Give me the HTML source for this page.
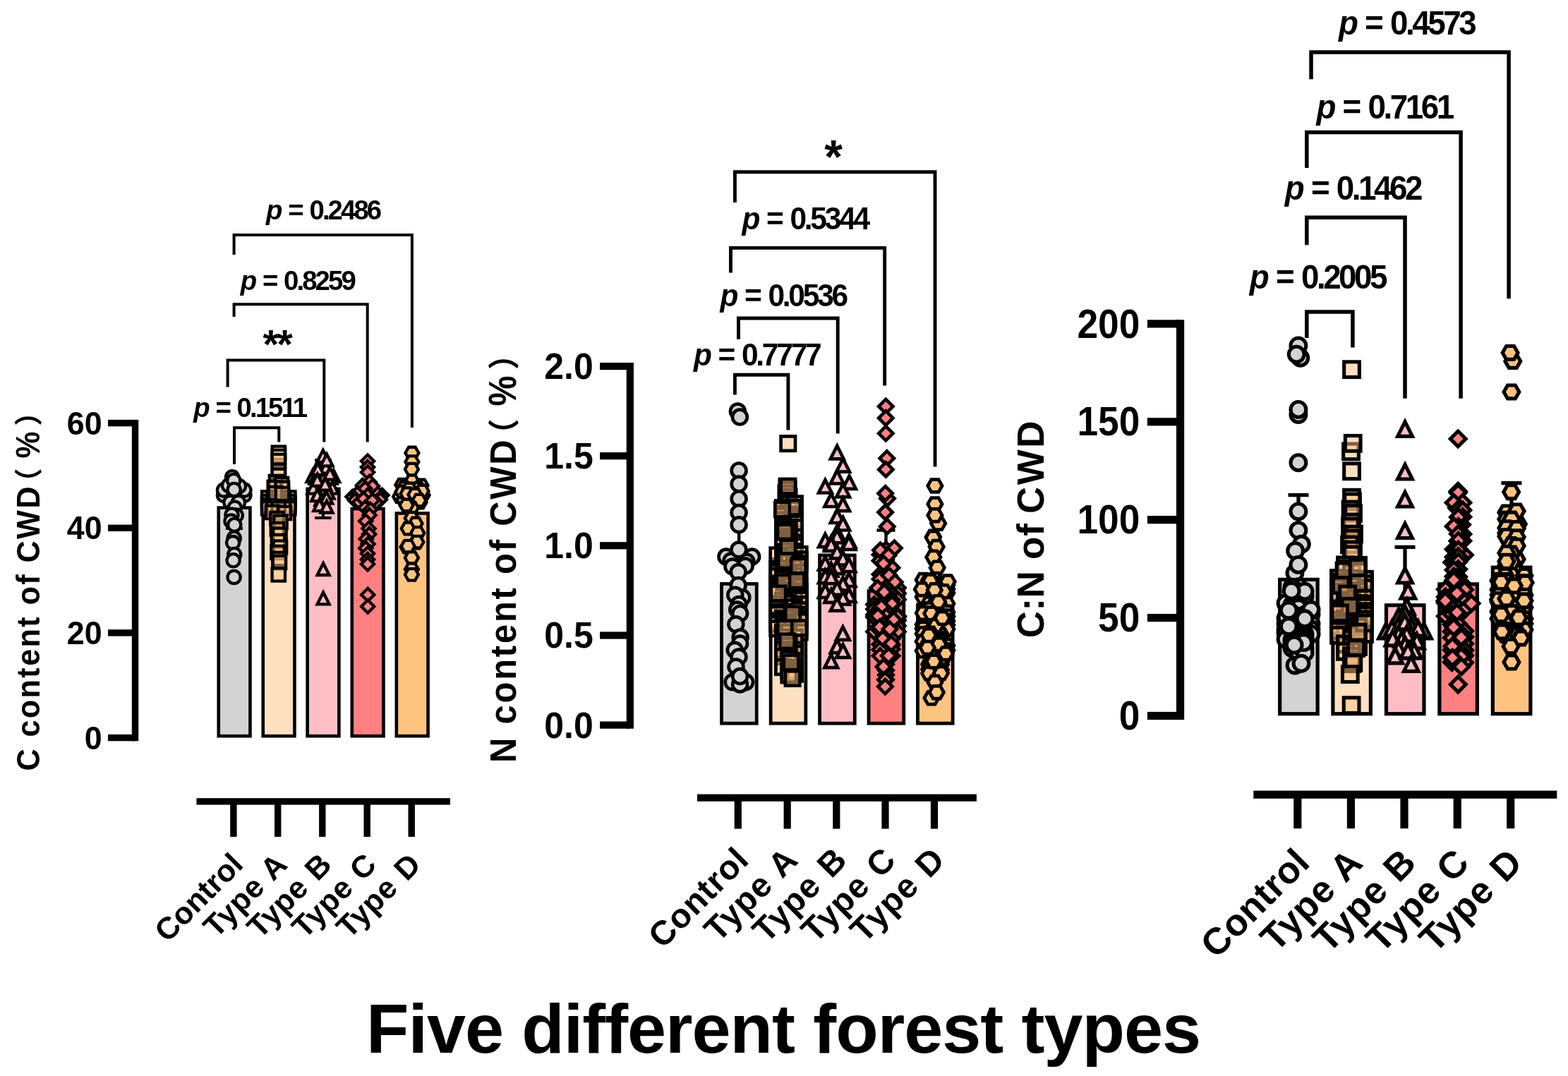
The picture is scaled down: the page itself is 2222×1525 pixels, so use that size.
<!DOCTYPE html>
<html lang="en"><head><meta charset="utf-8"><title>Five different forest types</title>
<style>html,body{margin:0;padding:0;background:#fff;overflow:hidden}svg{display:block}text{font-family:'Liberation Sans','Noto Sans CJK SC',sans-serif;font-weight:bold;fill:#000}</style>
</head><body>
<svg width="2222" height="1525" viewBox="0 0 2222 1525" role="img" aria-label="Bar and scatter charts of C content, N content and C:N of CWD for five forest types">
<rect width="2222" height="1525" fill="#fff"/>
<g>
<g fill="#000">
<rect x="186.85" y="594.9" width="9.4" height="455.4" fill="#000"/>
<rect x="153" y="594.9" width="38.55" height="9.4" fill="#000"/>
<rect x="153" y="743.6" width="38.55" height="9.4" fill="#000"/>
<rect x="153" y="892.2" width="38.55" height="9.4" fill="#000"/>
<rect x="153" y="1040.9" width="38.55" height="9.4" fill="#000"/>
<rect x="278.5" y="1131.2" width="359.4" height="9.4" fill="#000"/>
<rect x="326.2" y="1135.9" width="9.4" height="50.1" fill="#000"/>
<rect x="389" y="1135.9" width="9.4" height="50.1" fill="#000"/>
<rect x="452.1" y="1135.9" width="9.4" height="50.1" fill="#000"/>
<rect x="515.5" y="1135.9" width="9.4" height="50.1" fill="#000"/>
<rect x="578.5" y="1135.9" width="9.4" height="50.1" fill="#000"/>
</g>
<text transform="translate(144.6 615.5) scale(1 1.048)" font-size="44.8" text-anchor="end">60</text>
<text transform="translate(144.6 764.2) scale(1 1.048)" font-size="44.8" text-anchor="end">40</text>
<text transform="translate(144.6 912.8) scale(1 1.048)" font-size="44.8" text-anchor="end">20</text>
<text transform="translate(144.6 1061.5) scale(1 1.048)" font-size="44.8" text-anchor="end">0</text>
<text transform="translate(346.8 1227.6) rotate(-45)" font-size="43.6" text-anchor="end" style="word-spacing:2px;">Control</text>
<text transform="translate(409.6 1227.6) rotate(-45)" font-size="43.6" text-anchor="end" style="letter-spacing:0.6px;word-spacing:2px;">Type A</text>
<text transform="translate(472.7 1227.6) rotate(-45)" font-size="43.6" text-anchor="end" style="letter-spacing:0.6px;word-spacing:2px;">Type B</text>
<text transform="translate(536.1 1227.6) rotate(-45)" font-size="43.6" text-anchor="end" style="letter-spacing:0.6px;word-spacing:2px;">Type C</text>
<text transform="translate(599.1 1227.6) rotate(-45)" font-size="43.6" text-anchor="end" style="letter-spacing:0.6px;word-spacing:2px;">Type D</text>
<g stroke="#000" stroke-width="4.6">
<rect x="309.75" y="719.6" width="44.7" height="323.6" fill="#D3D3D3"/>
<rect x="372.75" y="724.3" width="44.7" height="318.9" fill="#FFE0C0"/>
<rect x="435.65" y="692.9" width="44.7" height="350.3" fill="#FFBEC6"/>
<rect x="498.75" y="721.1" width="44.7" height="322.1" fill="#FF8080"/>
<rect x="561.85" y="727.5" width="44.7" height="315.7" fill="#FFC380"/>
</g>
<path d="M332 690V749M320 690H344M320 749H344M457.9 652V734.1M446.1 652H469.7M446.1 734.1H469.7" fill="none" stroke="#000" stroke-width="4"/>
<g fill="#D3D3D3" stroke="#000" stroke-width="4.3">
<circle cx="329.1" cy="676.2" r="9.1"/><circle cx="317" cy="701.9" r="9.1"/><circle cx="346.4" cy="701.9" r="9.1"/><circle cx="317" cy="694.6" r="9.1"/><circle cx="346.4" cy="694.6" r="9.1"/><circle cx="331.7" cy="700" r="9.1"/><circle cx="324" cy="688" r="9.1"/><circle cx="339" cy="689" r="9.1"/><circle cx="331.2" cy="680.9" r="9.1"/><circle cx="331.7" cy="694" r="9.1"/><circle cx="326.4" cy="711.9" r="9.1"/><circle cx="338" cy="711.9" r="9.1"/><circle cx="332.7" cy="719.7" r="9.1"/><circle cx="334.8" cy="730.5" r="9.1"/><circle cx="328.5" cy="729.7" r="9.1"/><circle cx="327.5" cy="738.6" r="9.1"/><circle cx="332.2" cy="743.9" r="9.1"/><circle cx="331.7" cy="762.8" r="9.1"/><circle cx="330.1" cy="769.1" r="9.1"/><circle cx="332.2" cy="785.9" r="9.1"/><circle cx="330.6" cy="794.3" r="9.1"/><circle cx="331.6" cy="818" r="9.1"/>
</g>
<g fill="#FFC080" fill-opacity=".5" stroke="#000" stroke-width="4.3">
<rect x="385.7" y="632.6" width="18.4" height="18.4"/><rect x="385.7" y="637.8" width="18.4" height="18.4"/><rect x="385.7" y="643.8" width="18.4" height="18.4"/><rect x="385.7" y="657.8" width="18.4" height="18.4"/><rect x="385.7" y="664.8" width="18.4" height="18.4"/><rect x="381.8" y="673.8" width="18.4" height="18.4"/><rect x="389.8" y="676.8" width="18.4" height="18.4"/><rect x="379.6" y="681.8" width="18.4" height="18.4"/><rect x="390.8" y="682.8" width="18.4" height="18.4"/><rect x="371" y="696.3" width="18.4" height="18.4"/><rect x="400.1" y="696.3" width="18.4" height="18.4"/><rect x="378.2" y="696.3" width="18.4" height="18.4"/><rect x="392.8" y="696.3" width="18.4" height="18.4"/><rect x="385.5" y="696.3" width="18.4" height="18.4"/><rect x="371" y="701.8" width="18.4" height="18.4"/><rect x="400.1" y="701.8" width="18.4" height="18.4"/><rect x="378.2" y="701.8" width="18.4" height="18.4"/><rect x="392.8" y="701.8" width="18.4" height="18.4"/><rect x="385.5" y="701.8" width="18.4" height="18.4"/><rect x="371" y="706.8" width="18.4" height="18.4"/><rect x="400.1" y="706.8" width="18.4" height="18.4"/><rect x="378.2" y="706.8" width="18.4" height="18.4"/><rect x="392.8" y="706.8" width="18.4" height="18.4"/><rect x="385.5" y="706.8" width="18.4" height="18.4"/><rect x="371" y="711.3" width="18.4" height="18.4"/><rect x="400.1" y="711.3" width="18.4" height="18.4"/><rect x="378.2" y="711.3" width="18.4" height="18.4"/><rect x="392.8" y="711.3" width="18.4" height="18.4"/><rect x="385.5" y="711.3" width="18.4" height="18.4"/><rect x="380.8" y="689.8" width="18.4" height="18.4"/><rect x="390.8" y="690.8" width="18.4" height="18.4"/><rect x="376.8" y="716.8" width="18.4" height="18.4"/><rect x="393.8" y="717.8" width="18.4" height="18.4"/><rect x="383.3" y="725.8" width="18.4" height="18.4"/><rect x="388.3" y="730.8" width="18.4" height="18.4"/><rect x="383.8" y="740.8" width="18.4" height="18.4"/><rect x="387.3" y="748.6" width="18.4" height="18.4"/><rect x="384.8" y="757.8" width="18.4" height="18.4"/><rect x="387.8" y="766.4" width="18.4" height="18.4"/><rect x="384.3" y="773.8" width="18.4" height="18.4"/><rect x="386.3" y="782.8" width="18.4" height="18.4"/><rect x="386.8" y="787.8" width="18.4" height="18.4"/><rect x="385.6" y="805.2" width="18.4" height="18.4"/>
</g>
<g fill="#FFBEC6" stroke="#000" stroke-width="4.3">
<path d="M443 666.16L451.5 682.99H434.5Z"/><path d="M472.7 666.16L481.2 682.99H464.2Z"/><path d="M447 668.86L455.5 685.69H438.5Z"/><path d="M469 668.86L477.5 685.69H460.5Z"/><path d="M456 660.86L464.5 677.69H447.5Z"/><path d="M444 682.86L452.5 699.69H435.5Z"/><path d="M471 682.86L479.5 699.69H462.5Z"/><path d="M455 686.86L463.5 703.69H446.5Z"/><path d="M465 689.86L473.5 706.69H456.5Z"/><path d="M458 669.86L466.5 686.69H449.5Z"/><path d="M452 649.86L460.5 666.69H443.5Z"/><path d="M462 653.86L470.5 670.69H453.5Z"/><path d="M457.8 638.06L466.3 654.89H449.3Z"/><path d="M463 643.56L471.5 660.39H454.5Z"/><path d="M450.4 656.16L458.9 672.99H441.9Z"/><path d="M467.5 662.86L476 679.69H459Z"/><path d="M449.7 671.86L458.2 688.69H441.2Z"/><path d="M460.8 677.76L469.3 694.59H452.3Z"/><path d="M455 698.86L463.5 715.69H446.5Z"/><path d="M449.7 693.36L458.2 710.19H441.2Z"/><path d="M462.7 696.86L471.2 713.69H454.2Z"/><path d="M452.8 707.26L461.3 724.09H444.3Z"/><path d="M463 709.66L471.5 726.49H454.5Z"/><path d="M458.1 798.16L466.6 814.99H449.6Z"/><path d="M458.1 839.56L466.6 856.39H449.6Z"/>
</g>
<g fill="#FF8080" stroke="#000" stroke-width="4.3">
<path d="M521 644.5L530.1 653.6L521 662.7L511.9 653.6Z"/><path d="M521 652.9L530.1 662L521 671.1L511.9 662Z"/><path d="M521 660.2L530.1 669.3L521 678.4L511.9 669.3Z"/><path d="M523.6 673.9L532.7 683L523.6 692.1L514.5 683Z"/><path d="M499.5 694.9L508.6 704L499.5 713.1L490.4 704Z"/><path d="M541.4 692.7L550.5 701.8L541.4 710.9L532.3 701.8Z"/><path d="M505.7 692.7L514.8 701.8L505.7 710.9L496.6 701.8Z"/><path d="M536.2 691.7L545.3 700.8L536.2 709.9L527.1 700.8Z"/><path d="M510 686.4L519.1 695.5L510 704.6L500.9 695.5Z"/><path d="M530.9 686.4L540 695.5L530.9 704.6L521.8 695.5Z"/><path d="M503 699.9L512.1 709L503 718.1L493.9 709Z"/><path d="M539 698.9L548.1 708L539 717.1L529.9 708Z"/><path d="M509 702.9L518.1 712L509 721.1L499.9 712Z"/><path d="M533 702.9L542.1 712L533 721.1L523.9 712Z"/><path d="M514 678.9L523.1 688L514 697.1L504.9 688Z"/><path d="M528 679.9L537.1 689L528 698.1L518.9 689Z"/><path d="M517.3 683.3L526.4 692.4L517.3 701.5L508.2 692.4Z"/><path d="M521 692.9L530.1 702L521 711.1L511.9 702Z"/><path d="M515 697.9L524.1 707L515 716.1L505.9 707Z"/><path d="M527.8 700.1L536.9 709.2L527.8 718.3L518.7 709.2Z"/><path d="M517.3 710.6L526.4 719.7L517.3 728.8L508.2 719.7Z"/><path d="M525 712.9L534.1 722L525 731.1L515.9 722Z"/><path d="M523.6 721.1L532.7 730.2L523.6 739.3L514.5 730.2Z"/><path d="M518.3 729.5L527.4 738.6L518.3 747.7L509.2 738.6Z"/><path d="M522.5 740L531.6 749.1L522.5 758.2L513.4 749.1Z"/><path d="M523.2 747.9L532.3 757L523.2 766.1L514.1 757Z"/><path d="M518.8 754.7L527.9 763.8L518.8 772.9L509.7 763.8Z"/><path d="M521.5 761.9L530.6 771L521.5 780.1L512.4 771Z"/><path d="M518.3 767.9L527.4 777L518.3 786.1L509.2 777Z"/><path d="M521 775.5L530.1 784.6L521 793.7L511.9 784.6Z"/><path d="M521 783.9L530.1 793L521 802.1L511.9 793Z"/><path d="M521 790.3L530.1 799.4L521 808.5L511.9 799.4Z"/><path d="M521.2 833.8L530.3 842.9L521.2 852L512.1 842.9Z"/><path d="M521.2 850.5L530.3 859.6L521.2 868.7L512.1 859.6Z"/>
</g>
<g fill="#FFC380" stroke="#000" stroke-width="4.3">
<path d="M574.4 642L579.15 633.77H588.65L593.4 642L588.65 650.23H579.15Z"/><path d="M574.4 654.6L579.15 646.37H588.65L593.4 654.6L588.65 662.83H579.15Z"/><path d="M573.9 665.1L578.65 656.87H588.15L592.9 665.1L588.15 673.33H578.65Z"/><path d="M574.4 681.9L579.15 673.67H588.65L593.4 681.9L588.65 690.13H579.15Z"/><path d="M560.3 687.2L565.05 678.97H574.55L579.3 687.2L574.55 695.43H565.05Z"/><path d="M587.5 688L592.25 679.77H601.75L606.5 688L601.75 696.23H592.25Z"/><path d="M557.1 703.9L561.85 695.67H571.35L576.1 703.9L571.35 712.13H561.85Z"/><path d="M589.6 701.8L594.35 693.57H603.85L608.6 701.8L603.85 710.03H594.35Z"/><path d="M563.4 691.4L568.15 683.17H577.65L582.4 691.4L577.65 699.63H568.15Z"/><path d="M583.3 692.4L588.05 684.17H597.55L602.3 692.4L597.55 700.63H588.05Z"/><path d="M562.5 708L567.25 699.77H576.75L581.5 708L576.75 716.23H567.25Z"/><path d="M585.5 712L590.25 703.77H599.75L604.5 712L599.75 720.23H590.25Z"/><path d="M560.5 697L565.25 688.77H574.75L579.5 697L574.75 705.23H565.25Z"/><path d="M588.5 696L593.25 687.77H602.75L607.5 696L602.75 704.23H593.25Z"/><path d="M570.5 693L575.25 684.77H584.75L589.5 693L584.75 701.23H575.25Z"/><path d="M577.5 707L582.25 698.77H591.75L596.5 707L591.75 715.23H582.25Z"/><path d="M567.6 699.7L572.35 691.47H581.85L586.6 699.7L581.85 707.93H572.35Z"/><path d="M578.5 701L583.25 692.77H592.75L597.5 701L592.75 709.23H583.25Z"/><path d="M584.4 709.2L589.15 700.97H598.65L603.4 709.2L598.65 717.43H589.15Z"/><path d="M573.9 719.7L578.65 711.47H588.15L592.9 719.7L588.15 727.93H578.65Z"/><path d="M566.5 716L571.25 707.77H580.75L585.5 716L580.75 724.23H571.25Z"/><path d="M573.9 734.4L578.65 726.17H588.15L592.9 734.4L588.15 742.63H578.65Z"/><path d="M579.5 742L584.25 733.77H593.75L598.5 742L593.75 750.23H584.25Z"/><path d="M568.7 749.1L573.45 740.87H582.95L587.7 749.1L582.95 757.33H573.45Z"/><path d="M582.3 755.4L587.05 747.17H596.55L601.3 755.4L596.55 763.63H587.05Z"/><path d="M580.2 769L584.95 760.77H594.45L599.2 769L594.45 777.23H584.95Z"/><path d="M567.6 775.3L572.35 767.07H581.85L586.6 775.3L581.85 783.53H572.35Z"/><path d="M581.3 768.2L586.05 759.97H595.55L600.3 768.2L595.55 776.43H586.05Z"/><path d="M568.7 774.2L573.45 765.97H582.95L587.7 774.2L582.95 782.43H573.45Z"/><path d="M573.9 790.5L578.65 782.27H588.15L592.9 790.5L588.15 798.73H578.65Z"/><path d="M573.9 806.8L578.65 798.57H588.15L592.9 806.8L588.15 815.03H578.65Z"/><path d="M573.9 814.3L578.65 806.07H588.15L592.9 814.3L588.15 822.53H578.65Z"/>
</g>
<path d="M332 657.9V606.2H395.3V626.4" fill="none" stroke="#000" stroke-width="4"/>
<path d="M322.6 548.6V510.5H459.3V626.4" fill="none" stroke="#000" stroke-width="4"/>
<path d="M331.6 449V431.3H520.7V626.4" fill="none" stroke="#000" stroke-width="4"/>
<path d="M331.6 361V333.1H583.9V606" fill="none" stroke="#000" stroke-width="4"/>
<text transform="translate(274.2 591) scale(1 1.035)" font-size="38.4" style="letter-spacing:-2.95px;word-spacing:3px;"><tspan font-style="italic">p</tspan> = 0.1511</text>
<text transform="translate(392.2 508.3)" font-size="58" text-anchor="middle" style="letter-spacing:-2.9px;">**</text>
<text transform="translate(340.7 410.8) scale(1 1.035)" font-size="38.4" style="letter-spacing:-2.95px;word-spacing:3px;"><tspan font-style="italic">p</tspan> = 0.8259</text>
<text transform="translate(377.1 311.1) scale(1 1.035)" font-size="38.4" style="letter-spacing:-2.95px;word-spacing:3px;"><tspan font-style="italic">p</tspan> = 0.2486</text>
<g transform="translate(56.2 1092) rotate(-90)">
<text transform="translate(-0.6 0) scale(1 1.06)" font-size="43.2" style="letter-spacing:2.4px">C content of CWD</text>
<text transform="translate(388.5 -1.4)" font-size="40" font-weight="normal">（</text>
<text transform="translate(442.5 0) scale(0.95 1.08)" font-size="45">%</text>
<text transform="translate(488.2 -1.4)" font-size="40" font-weight="normal">）</text>
</g>
</g>
<g>
<g fill="#000">
<rect x="887.75" y="514" width="10.2" height="518.7" fill="#000"/>
<rect x="850.1" y="514" width="42.75" height="10.2" fill="#000"/>
<rect x="850.1" y="641.1" width="42.75" height="10.2" fill="#000"/>
<rect x="850.1" y="768.2" width="42.75" height="10.2" fill="#000"/>
<rect x="850.1" y="895.4" width="42.75" height="10.2" fill="#000"/>
<rect x="850.1" y="1022.5" width="42.75" height="10.2" fill="#000"/>
<rect x="988" y="1125.6" width="395.9" height="10.2" fill="#000"/>
<rect x="1040.7" y="1130.7" width="10.2" height="43.9" fill="#000"/>
<rect x="1110.6" y="1130.7" width="10.2" height="43.9" fill="#000"/>
<rect x="1180.2" y="1130.7" width="10.2" height="43.9" fill="#000"/>
<rect x="1249.4" y="1130.7" width="10.2" height="43.9" fill="#000"/>
<rect x="1318.9" y="1130.7" width="10.2" height="43.9" fill="#000"/>
</g>
<text transform="translate(840.8 537) scale(1 1.043)" font-size="50" text-anchor="end">2.0</text>
<text transform="translate(840.8 664.1) scale(1 1.043)" font-size="50" text-anchor="end">1.5</text>
<text transform="translate(840.8 791.2) scale(1 1.043)" font-size="50" text-anchor="end">1.0</text>
<text transform="translate(840.8 918.4) scale(1 1.043)" font-size="50" text-anchor="end">0.5</text>
<text transform="translate(840.8 1045.5) scale(1 1.043)" font-size="50" text-anchor="end">0.0</text>
<text transform="translate(1063.8 1221) rotate(-45)" font-size="48" text-anchor="end" style="letter-spacing:0.9px;word-spacing:2px;">Control</text>
<text transform="translate(1133.7 1221) rotate(-45)" font-size="48" text-anchor="end" style="letter-spacing:1.2px;word-spacing:2px;">Type A</text>
<text transform="translate(1203.3 1221) rotate(-45)" font-size="48" text-anchor="end" style="letter-spacing:1.2px;word-spacing:2px;">Type B</text>
<text transform="translate(1272.5 1221) rotate(-45)" font-size="48" text-anchor="end" style="letter-spacing:1.2px;word-spacing:2px;">Type C</text>
<text transform="translate(1342 1221) rotate(-45)" font-size="48" text-anchor="end" style="letter-spacing:1.2px;word-spacing:2px;">Type D</text>
<g stroke="#000" stroke-width="4.8">
<rect x="1022.55" y="827.5" width="49.7" height="197.7" fill="#D3D3D3"/>
<rect x="1092.15" y="792.4" width="49.7" height="232.8" fill="#FFE0C0"/>
<rect x="1161.55" y="787" width="49.7" height="238.2" fill="#FFBEC6"/>
<rect x="1231.05" y="837.6" width="49.7" height="187.6" fill="#FF8080"/>
<rect x="1300.45" y="857.4" width="49.7" height="167.8" fill="#FFC380"/>
</g>
<path d="M1047.2 744V825M1255.5 751.5V836M1242.5 751.5H1268.5" fill="none" stroke="#000" stroke-width="4.4"/>
<g fill="#D3D3D3" stroke="#000" stroke-width="4.7">
<circle cx="1045.4" cy="583" r="10.4"/><circle cx="1048.4" cy="591.1" r="10.4"/><circle cx="1047.1" cy="666.9" r="10.4"/><circle cx="1047.1" cy="686" r="10.4"/><circle cx="1047.1" cy="706.9" r="10.4"/><circle cx="1047.1" cy="726.6" r="10.4"/><circle cx="1047.1" cy="743.7" r="10.4"/><circle cx="1028.9" cy="789.1" r="10.4"/><circle cx="1065.7" cy="789.1" r="10.4"/><circle cx="1036" cy="795" r="10.4"/><circle cx="1058" cy="796" r="10.4"/><circle cx="1038" cy="803" r="10.4"/><circle cx="1056.3" cy="802" r="10.4"/><circle cx="1046.9" cy="779" r="10.4"/><circle cx="1046.2" cy="810.7" r="10.4"/><circle cx="1046.2" cy="829.4" r="10.4"/><circle cx="1051.9" cy="846.8" r="10.4"/><circle cx="1041.8" cy="843.2" r="10.4"/><circle cx="1047" cy="856.5" r="10.4"/><circle cx="1044.7" cy="864.1" r="10.4"/><circle cx="1048.6" cy="869.4" r="10.4"/><circle cx="1042.9" cy="884.8" r="10.4"/><circle cx="1049.1" cy="903.1" r="10.4"/><circle cx="1048.6" cy="912" r="10.4"/><circle cx="1041.3" cy="921.3" r="10.4"/><circle cx="1047" cy="931" r="10.4"/><circle cx="1043" cy="945" r="10.4"/><circle cx="1038.1" cy="966.7" r="10.4"/><circle cx="1056.7" cy="966.7" r="10.4"/><circle cx="1048.6" cy="969.9" r="10.4"/><circle cx="1048.6" cy="958.6" r="10.4"/>
</g>
<g fill="#FFC080" fill-opacity=".5" stroke="#000" stroke-width="4.7">
<rect x="1106.6" y="618.4" width="20.4" height="20.4"/><rect x="1104.8" y="679.3" width="20.4" height="20.4"/><rect x="1106.8" y="683.8" width="20.4" height="20.4"/><rect x="1103.8" y="688.8" width="20.4" height="20.4"/><rect x="1107.8" y="693.8" width="20.4" height="20.4"/><rect x="1105.3" y="698.8" width="20.4" height="20.4"/><rect x="1107.8" y="704.14" width="20.4" height="20.4"/><rect x="1116.2" y="703.64" width="20.4" height="20.4"/><rect x="1107.8" y="709.12" width="20.4" height="20.4"/><rect x="1099.4" y="709.54" width="20.4" height="20.4"/><rect x="1107.8" y="712.31" width="20.4" height="20.4"/><rect x="1116.2" y="711.65" width="20.4" height="20.4"/><rect x="1107.8" y="718.9" width="20.4" height="20.4"/><rect x="1099.4" y="718.16" width="20.4" height="20.4"/><rect x="1116.2" y="722.43" width="20.4" height="20.4"/><rect x="1099.4" y="720.76" width="20.4" height="20.4"/><rect x="1099.4" y="726.56" width="20.4" height="20.4"/><rect x="1116.2" y="725.84" width="20.4" height="20.4"/><rect x="1107.8" y="732" width="20.4" height="20.4"/><rect x="1116.2" y="731.74" width="20.4" height="20.4"/><rect x="1116.2" y="737.37" width="20.4" height="20.4"/><rect x="1099.4" y="735.44" width="20.4" height="20.4"/><rect x="1107.8" y="739.94" width="20.4" height="20.4"/><rect x="1099.4" y="739.91" width="20.4" height="20.4"/><rect x="1107.8" y="745" width="20.4" height="20.4"/><rect x="1099.4" y="744.73" width="20.4" height="20.4"/><rect x="1116.2" y="751.08" width="20.4" height="20.4"/><rect x="1107.8" y="749.82" width="20.4" height="20.4"/><rect x="1099.4" y="754.09" width="20.4" height="20.4"/><rect x="1107.8" y="755.67" width="20.4" height="20.4"/><rect x="1116.2" y="759.19" width="20.4" height="20.4"/><rect x="1107.8" y="758.69" width="20.4" height="20.4"/><rect x="1116.2" y="763.83" width="20.4" height="20.4"/><rect x="1107.8" y="763.78" width="20.4" height="20.4"/><rect x="1115.11" y="771.57" width="20.4" height="20.4"/><rect x="1099.49" y="771.89" width="20.4" height="20.4"/><rect x="1107.3" y="770.69" width="20.4" height="20.4"/><rect x="1115.11" y="775.96" width="20.4" height="20.4"/><rect x="1091.68" y="776.67" width="20.4" height="20.4"/><rect x="1122.92" y="775.37" width="20.4" height="20.4"/><rect x="1107.3" y="781.84" width="20.4" height="20.4"/><rect x="1122.92" y="782.5" width="20.4" height="20.4"/><rect x="1099.49" y="781.38" width="20.4" height="20.4"/><rect x="1107.3" y="787.27" width="20.4" height="20.4"/><rect x="1115.11" y="787.16" width="20.4" height="20.4"/><rect x="1122.92" y="788.21" width="20.4" height="20.4"/><rect x="1091.68" y="796.28" width="20.4" height="20.4"/><rect x="1099.49" y="795.24" width="20.4" height="20.4"/><rect x="1115.11" y="794.56" width="20.4" height="20.4"/><rect x="1091.68" y="801.07" width="20.4" height="20.4"/><rect x="1122.92" y="800.64" width="20.4" height="20.4"/><rect x="1107.3" y="801.23" width="20.4" height="20.4"/><rect x="1091.68" y="806.32" width="20.4" height="20.4"/><rect x="1115.11" y="805.86" width="20.4" height="20.4"/><rect x="1107.3" y="806.05" width="20.4" height="20.4"/><rect x="1107.3" y="811" width="20.4" height="20.4"/><rect x="1115.11" y="812.12" width="20.4" height="20.4"/><rect x="1099.49" y="810.14" width="20.4" height="20.4"/><rect x="1115.11" y="817" width="20.4" height="20.4"/><rect x="1099.49" y="815.93" width="20.4" height="20.4"/><rect x="1091.68" y="816.98" width="20.4" height="20.4"/><rect x="1107.3" y="819.62" width="20.4" height="20.4"/><rect x="1091.68" y="821.65" width="20.4" height="20.4"/><rect x="1122.92" y="821.42" width="20.4" height="20.4"/><rect x="1107.3" y="827.06" width="20.4" height="20.4"/><rect x="1091.68" y="826.08" width="20.4" height="20.4"/><rect x="1122.92" y="827.14" width="20.4" height="20.4"/><rect x="1122.92" y="831.19" width="20.4" height="20.4"/><rect x="1107.3" y="830.48" width="20.4" height="20.4"/><rect x="1091.68" y="829.79" width="20.4" height="20.4"/><rect x="1122.92" y="835.92" width="20.4" height="20.4"/><rect x="1107.3" y="837.26" width="20.4" height="20.4"/><rect x="1115.11" y="836.55" width="20.4" height="20.4"/><rect x="1115.11" y="839.88" width="20.4" height="20.4"/><rect x="1122.92" y="839.53" width="20.4" height="20.4"/><rect x="1099.49" y="840.7" width="20.4" height="20.4"/><rect x="1107.3" y="844.57" width="20.4" height="20.4"/><rect x="1091.68" y="845.97" width="20.4" height="20.4"/><rect x="1122.92" y="846.25" width="20.4" height="20.4"/><rect x="1107.3" y="850.57" width="20.4" height="20.4"/><rect x="1091.68" y="852" width="20.4" height="20.4"/><rect x="1115.11" y="850.63" width="20.4" height="20.4"/><rect x="1122.92" y="854.51" width="20.4" height="20.4"/><rect x="1099.49" y="857.18" width="20.4" height="20.4"/><rect x="1091.68" y="856.99" width="20.4" height="20.4"/><rect x="1091.68" y="860.2" width="20.4" height="20.4"/><rect x="1115.11" y="861.88" width="20.4" height="20.4"/><rect x="1122.92" y="861.13" width="20.4" height="20.4"/><rect x="1099.49" y="866.19" width="20.4" height="20.4"/><rect x="1115.11" y="865.3" width="20.4" height="20.4"/><rect x="1122.92" y="865.98" width="20.4" height="20.4"/><rect x="1122.92" y="870.31" width="20.4" height="20.4"/><rect x="1107.3" y="871.37" width="20.4" height="20.4"/><rect x="1091.68" y="869.64" width="20.4" height="20.4"/><rect x="1091.68" y="874.31" width="20.4" height="20.4"/><rect x="1107.3" y="875.43" width="20.4" height="20.4"/><rect x="1099.49" y="876.66" width="20.4" height="20.4"/><rect x="1122.92" y="879.82" width="20.4" height="20.4"/><rect x="1107.3" y="880.65" width="20.4" height="20.4"/><rect x="1091.68" y="880.57" width="20.4" height="20.4"/><rect x="1122.92" y="885.74" width="20.4" height="20.4"/><rect x="1099.49" y="886.37" width="20.4" height="20.4"/><rect x="1107.3" y="885.92" width="20.4" height="20.4"/><rect x="1116.2" y="892.95" width="20.4" height="20.4"/><rect x="1099.4" y="892.8" width="20.4" height="20.4"/><rect x="1107.8" y="899.62" width="20.4" height="20.4"/><rect x="1116.2" y="900.5" width="20.4" height="20.4"/><rect x="1099.4" y="904.87" width="20.4" height="20.4"/><rect x="1107.8" y="905" width="20.4" height="20.4"/><rect x="1099.4" y="910.5" width="20.4" height="20.4"/><rect x="1116.2" y="910.86" width="20.4" height="20.4"/><rect x="1107.8" y="914.65" width="20.4" height="20.4"/><rect x="1116.2" y="915.97" width="20.4" height="20.4"/><rect x="1099.4" y="920.35" width="20.4" height="20.4"/><rect x="1107.8" y="919.8" width="20.4" height="20.4"/><rect x="1116.2" y="926.03" width="20.4" height="20.4"/><rect x="1107.8" y="923.97" width="20.4" height="20.4"/><rect x="1116.2" y="935.93" width="20.4" height="20.4"/><rect x="1099.4" y="935.4" width="20.4" height="20.4"/><rect x="1107.8" y="940.45" width="20.4" height="20.4"/><rect x="1116.2" y="942.18" width="20.4" height="20.4"/><rect x="1116.2" y="944.99" width="20.4" height="20.4"/><rect x="1107.8" y="946.7" width="20.4" height="20.4"/><rect x="1106.7" y="679" width="20.4" height="20.4"/><rect x="1113.3" y="709.2" width="20.4" height="20.4"/><rect x="1098.3" y="711.8" width="20.4" height="20.4"/><rect x="1102.3" y="743.5" width="20.4" height="20.4"/><rect x="1106.7" y="765.8" width="20.4" height="20.4"/><rect x="1103.1" y="784.6" width="20.4" height="20.4"/><rect x="1121.1" y="791.8" width="20.4" height="20.4"/><rect x="1100.8" y="814.9" width="20.4" height="20.4"/><rect x="1119" y="812.8" width="20.4" height="20.4"/><rect x="1092.8" y="830.8" width="20.4" height="20.4"/><rect x="1113.2" y="859.7" width="20.4" height="20.4"/><rect x="1102.3" y="879.8" width="20.4" height="20.4"/><rect x="1122.3" y="879.8" width="20.4" height="20.4"/><rect x="1105.2" y="898.6" width="20.4" height="20.4"/><rect x="1111" y="928.9" width="20.4" height="20.4"/><rect x="1112.9" y="951.3" width="20.4" height="20.4"/>
</g>
<g fill="#FFBEC6" stroke="#000" stroke-width="4.7">
<path d="M1186.2 631.89L1195.5 650.3H1176.9Z"/><path d="M1194.6 650.19L1203.9 668.6H1185.3Z"/><path d="M1186.2 666.99L1195.5 685.4H1176.9Z"/><path d="M1203.5 674.39L1212.8 692.8H1194.2Z"/><path d="M1169.4 680.09L1178.7 698.5H1160.1Z"/><path d="M1194.6 685.89L1203.9 704.3H1185.3Z"/><path d="M1177.8 699.59L1187.1 718H1168.5Z"/><path d="M1194.6 705.79L1203.9 724.2H1185.3Z"/><path d="M1186.2 722.59L1195.5 741H1176.9Z"/><path d="M1194.6 733.09L1203.9 751.5H1185.3Z"/><path d="M1186.2 745.29L1195.5 763.7H1176.9Z"/><path d="M1186.2 750.99L1195.5 769.4H1176.9Z"/><path d="M1169.4 756.69L1178.7 775.1H1160.1Z"/><path d="M1203 757.19L1212.3 775.6H1193.7Z"/><path d="M1177.8 760.09L1187.1 778.5H1168.5Z"/><path d="M1203 760.39L1212.3 778.8H1193.7Z"/><path d="M1177.8 762.49L1187.1 780.9H1168.5Z"/><path d="M1186.2 772.99L1195.5 791.4H1176.9Z"/><path d="M1194.6 782.19L1203.9 800.6H1185.3Z"/><path d="M1169.4 789.19L1178.7 807.6H1160.1Z"/><path d="M1203 791.79L1212.3 810.2H1193.7Z"/><path d="M1186.2 794.79L1195.5 813.2H1176.9Z"/><path d="M1177.8 798.19L1187.1 816.6H1168.5Z"/><path d="M1169.4 807.69L1178.7 826.1H1160.1Z"/><path d="M1177.8 808.69L1187.1 827.1H1168.5Z"/><path d="M1203 812.59L1212.3 831H1193.7Z"/><path d="M1194.6 818.19L1203.9 836.6H1185.3Z"/><path d="M1186.2 824.49L1195.5 842.9H1176.9Z"/><path d="M1169.4 828.49L1178.7 846.9H1160.1Z"/><path d="M1203 834.39L1212.3 852.8H1193.7Z"/><path d="M1177.8 835.39L1187.1 853.8H1168.5Z"/><path d="M1194.6 838.19L1203.9 856.6H1185.3Z"/><path d="M1186.2 847.29L1195.5 865.7H1176.9Z"/><path d="M1194.4 888.39L1203.7 906.8H1185.1Z"/><path d="M1186.2 906.69L1195.5 925.1H1176.9Z"/><path d="M1194.6 913.49L1203.9 931.9H1185.3Z"/><path d="M1177.8 927.69L1187.1 946.1H1168.5Z"/>
</g>
<g fill="#FF8080" stroke="#000" stroke-width="4.7">
<path d="M1255.3 565.9L1265.4 576L1255.3 586.1L1245.2 576Z"/><path d="M1255.3 582.4L1265.4 592.5L1255.3 602.6L1245.2 592.5Z"/><path d="M1255.3 604.1L1265.4 614.2L1255.3 624.3L1245.2 614.2Z"/><path d="M1256.8 639.4L1266.9 649.5L1256.8 659.6L1246.7 649.5Z"/><path d="M1255.3 655.3L1265.4 665.4L1255.3 675.5L1245.2 665.4Z"/><path d="M1257.5 696.4L1267.6 706.5L1257.5 716.6L1247.4 706.5Z"/><path d="M1254.6 689.2L1264.7 699.3L1254.6 709.4L1244.5 699.3Z"/><path d="M1254.6 715.9L1264.7 726L1254.6 736.1L1244.5 726Z"/><path d="M1257.2 736.1L1267.3 746.2L1257.2 756.3L1247.1 746.2Z"/><path d="M1263.9 770.35L1274 780.45L1263.9 790.55L1253.8 780.45Z"/><path d="M1255.5 768.62L1265.6 778.72L1255.5 788.82L1245.4 778.72Z"/><path d="M1255.5 777L1265.6 787.1L1255.5 797.2L1245.4 787.1Z"/><path d="M1247.1 776.07L1257.2 786.17L1247.1 796.27L1237 786.17Z"/><path d="M1255.5 783.51L1265.6 793.61L1255.5 803.71L1245.4 793.61Z"/><path d="M1247.1 784.7L1257.2 794.8L1247.1 804.9L1237 794.8Z"/><path d="M1255.5 796.05L1265.6 806.15L1255.5 816.25L1245.4 806.15Z"/><path d="M1263.9 794.58L1274 804.68L1263.9 814.78L1253.8 804.68Z"/><path d="M1255.5 804.74L1265.6 814.84L1255.5 824.94L1245.4 814.84Z"/><path d="M1247.1 803.79L1257.2 813.89L1247.1 823.99L1237 813.89Z"/><path d="M1255.5 811.13L1265.6 821.23L1255.5 831.33L1245.4 821.23Z"/><path d="M1247.1 810.59L1257.2 820.69L1247.1 830.79L1237 820.69Z"/><path d="M1272.3 822.83L1282.4 832.93L1272.3 843.03L1262.2 832.93Z"/><path d="M1255.5 822.75L1265.6 832.85L1255.5 842.95L1245.4 832.85Z"/><path d="M1263.9 823.33L1274 833.43L1263.9 843.53L1253.8 833.43Z"/><path d="M1272.3 831.02L1282.4 841.12L1272.3 851.22L1262.2 841.12Z"/><path d="M1263.9 831.54L1274 841.64L1263.9 851.74L1253.8 841.64Z"/><path d="M1255.5 830.09L1265.6 840.19L1255.5 850.29L1245.4 840.19Z"/><path d="M1272.3 839.73L1282.4 849.83L1272.3 859.93L1262.2 849.83Z"/><path d="M1255.5 838.8L1265.6 848.9L1255.5 859L1245.4 848.9Z"/><path d="M1263.9 840.17L1274 850.27L1263.9 860.37L1253.8 850.27Z"/><path d="M1247.1 847L1257.2 857.1L1247.1 867.2L1237 857.1Z"/><path d="M1263.9 845.63L1274 855.73L1263.9 865.83L1253.8 855.73Z"/><path d="M1238.7 846.62L1248.8 856.72L1238.7 866.82L1228.6 856.72Z"/><path d="M1238.7 853.26L1248.8 863.36L1238.7 873.46L1228.6 863.36Z"/><path d="M1255.5 855.34L1265.6 865.44L1255.5 875.54L1245.4 865.44Z"/><path d="M1247.1 852.75L1257.2 862.85L1247.1 872.95L1237 862.85Z"/><path d="M1255.5 862.7L1265.6 872.8L1255.5 882.9L1245.4 872.8Z"/><path d="M1238.7 861.17L1248.8 871.27L1238.7 881.37L1228.6 871.27Z"/><path d="M1272.3 862.79L1282.4 872.89L1272.3 882.99L1262.2 872.89Z"/><path d="M1272.3 869.18L1282.4 879.28L1272.3 889.38L1262.2 879.28Z"/><path d="M1263.9 869.14L1274 879.24L1263.9 889.34L1253.8 879.24Z"/><path d="M1247.1 868.77L1257.2 878.87L1247.1 888.97L1237 878.87Z"/><path d="M1263.9 875.08L1274 885.18L1263.9 895.28L1253.8 885.18Z"/><path d="M1272.3 877L1282.4 887.1L1272.3 897.2L1262.2 887.1Z"/><path d="M1247.1 876.84L1257.2 886.94L1247.1 897.04L1237 886.94Z"/><path d="M1238.7 885.06L1248.8 895.16L1238.7 905.26L1228.6 895.16Z"/><path d="M1247.1 883.44L1257.2 893.54L1247.1 903.64L1237 893.54Z"/><path d="M1272.3 885.22L1282.4 895.32L1272.3 905.42L1262.2 895.32Z"/><path d="M1255.5 895.88L1265.6 905.98L1255.5 916.08L1245.4 905.98Z"/><path d="M1263.9 895.05L1274 905.15L1263.9 915.25L1253.8 905.15Z"/><path d="M1263.9 904.12L1274 914.22L1263.9 924.32L1253.8 914.22Z"/><path d="M1247.1 903.09L1257.2 913.19L1247.1 923.29L1237 913.19Z"/><path d="M1263.9 909.9L1274 920L1263.9 930.1L1253.8 920Z"/><path d="M1247.1 910.6L1257.2 920.7L1247.1 930.8L1237 920.7Z"/><path d="M1263.9 919.36L1274 929.46L1263.9 939.56L1253.8 929.46Z"/><path d="M1247.1 919.49L1257.2 929.59L1247.1 939.69L1237 929.59Z"/><path d="M1255.5 931.52L1265.6 941.62L1255.5 951.72L1245.4 941.62Z"/><path d="M1255.5 939.86L1265.6 949.96L1255.5 960.06L1245.4 949.96Z"/><path d="M1255.5 946.45L1265.6 956.55L1255.5 966.65L1245.4 956.55Z"/><path d="M1255.5 953.04L1265.6 963.14L1255.5 973.24L1245.4 963.14Z"/><path d="M1247.5 769.7L1257.6 779.8L1247.5 789.9L1237.4 779.8Z"/><path d="M1267.3 766.7L1277.4 776.8L1267.3 786.9L1257.2 776.8Z"/><path d="M1258.9 777.1L1269 787.2L1258.9 797.3L1248.8 787.2Z"/><path d="M1252 788.5L1262.1 798.6L1252 808.7L1241.9 798.6Z"/><path d="M1259.9 805.3L1270 815.4L1259.9 825.5L1249.8 815.4Z"/><path d="M1268.3 814.8L1278.4 824.9L1268.3 835L1258.2 824.9Z"/><path d="M1243.6 823.2L1253.7 833.3L1243.6 843.4L1233.5 833.3Z"/><path d="M1253 829.1L1263.1 839.2L1253 849.3L1242.9 839.2Z"/><path d="M1249 849.9L1259.1 860L1249 870.1L1238.9 860Z"/><path d="M1238.7 864.4L1248.8 874.5L1238.7 884.6L1228.6 874.5Z"/><path d="M1272.3 864.4L1282.4 874.5L1272.3 884.6L1262.2 874.5Z"/><path d="M1244.1 862.8L1254.2 872.9L1244.1 883L1234 872.9Z"/><path d="M1266.3 868.2L1276.4 878.3L1266.3 888.4L1256.2 878.3Z"/><path d="M1246.5 878.6L1256.6 888.7L1246.5 898.8L1236.4 888.7Z"/><path d="M1260.9 881.6L1271 891.7L1260.9 901.8L1250.8 891.7Z"/><path d="M1251 894.9L1261.1 905L1251 915.1L1240.9 905Z"/><path d="M1263 901.9L1273.1 912L1263 922.1L1252.9 912Z"/><path d="M1259.2 919.3L1269.3 929.4L1259.2 939.5L1249.1 929.4Z"/><path d="M1252 934.9L1262.1 945L1252 955.1L1241.9 945Z"/><path d="M1254.4 953.3L1264.5 963.4L1254.4 973.5L1244.3 963.4Z"/><path d="M1254.4 963L1264.5 973.1L1254.4 983.2L1244.3 973.1Z"/>
</g>
<g fill="#FFC380" stroke="#000" stroke-width="4.7">
<path d="M1314.7 688.5L1319.8 679.67H1330L1335.1 688.5L1330 697.33H1319.8Z"/><path d="M1314.7 714.4L1319.8 705.57H1330L1335.1 714.4L1330 723.23H1319.8Z"/><path d="M1319.4 741.8L1324.5 732.97H1334.7L1339.8 741.8L1334.7 750.63H1324.5Z"/><path d="M1314.7 730.3L1319.8 721.47H1330L1335.1 730.3L1330 739.13H1319.8Z"/><path d="M1312.2 760.6L1317.3 751.77H1327.5L1332.6 760.6L1327.5 769.43H1317.3Z"/><path d="M1312.1 762L1317.2 753.17H1327.4L1332.5 762L1327.4 770.83H1317.2Z"/><path d="M1317 774.9L1322.1 766.07H1332.3L1337.4 774.9L1332.3 783.73H1322.1Z"/><path d="M1312.6 789.7L1317.7 780.87H1327.9L1333 789.7L1327.9 798.53H1317.7Z"/><path d="M1318 804.6L1323.1 795.77H1333.3L1338.4 804.6L1333.3 813.43H1323.1Z"/><path d="M1314.8 821.05L1319.9 812.22H1330.1L1335.2 821.05L1330.1 829.89H1319.9Z"/><path d="M1298 822.04L1303.1 813.2H1313.3L1318.4 822.04L1313.3 830.87H1303.1Z"/><path d="M1306.4 822.39L1311.5 813.56H1321.7L1326.8 822.39L1321.7 831.22H1311.5Z"/><path d="M1323.2 826.93L1328.3 818.09H1338.5L1343.6 826.93L1338.5 835.76H1328.3Z"/><path d="M1314.8 828.12L1319.9 819.28H1330.1L1335.2 828.12L1330.1 836.95H1319.9Z"/><path d="M1331.6 829.17L1336.7 820.34H1346.9L1352 829.17L1346.9 838H1336.7Z"/><path d="M1314.8 834.37L1319.9 825.54H1330.1L1335.2 834.37L1330.1 843.2H1319.9Z"/><path d="M1331.6 835L1336.7 826.16H1346.9L1352 835L1346.9 843.83H1336.7Z"/><path d="M1306.4 832.69L1311.5 823.86H1321.7L1326.8 832.69L1321.7 841.52H1311.5Z"/><path d="M1323.2 840.83L1328.3 832H1338.5L1343.6 840.83L1338.5 849.67H1328.3Z"/><path d="M1314.8 839.48L1319.9 830.65H1330.1L1335.2 839.48L1330.1 848.31H1319.9Z"/><path d="M1331.6 840.27L1336.7 831.44H1346.9L1352 840.27L1346.9 849.11H1336.7Z"/><path d="M1298 846L1303.1 837.17H1313.3L1318.4 846L1313.3 854.83H1303.1Z"/><path d="M1323.2 846.49L1328.3 837.65H1338.5L1343.6 846.49L1338.5 855.32H1328.3Z"/><path d="M1314.8 845.87L1319.9 837.04H1330.1L1335.2 845.87L1330.1 854.71H1319.9Z"/><path d="M1331.6 855.45L1336.7 846.61H1346.9L1352 855.45L1346.9 864.28H1336.7Z"/><path d="M1306.4 855.19L1311.5 846.36H1321.7L1326.8 855.19L1321.7 864.02H1311.5Z"/><path d="M1314.8 855.37L1319.9 846.53H1330.1L1335.2 855.37L1330.1 864.2H1319.9Z"/><path d="M1314.8 863.04L1319.9 854.21H1330.1L1335.2 863.04L1330.1 871.87H1319.9Z"/><path d="M1323.2 861.66L1328.3 852.83H1338.5L1343.6 861.66L1338.5 870.49H1328.3Z"/><path d="M1306.4 863.37L1311.5 854.54H1321.7L1326.8 863.37L1321.7 872.21H1311.5Z"/><path d="M1323.2 867.91L1328.3 859.08H1338.5L1343.6 867.91L1338.5 876.74H1328.3Z"/><path d="M1314.8 869.44L1319.9 860.61H1330.1L1335.2 869.44L1330.1 878.27H1319.9Z"/><path d="M1331.6 867.69L1336.7 858.86H1346.9L1352 867.69L1346.9 876.53H1336.7Z"/><path d="M1331.6 873.51L1336.7 864.68H1346.9L1352 873.51L1346.9 882.34H1336.7Z"/><path d="M1323.2 873.43L1328.3 864.6H1338.5L1343.6 873.43L1338.5 882.27H1328.3Z"/><path d="M1314.8 872.55L1319.9 863.71H1330.1L1335.2 872.55L1330.1 881.38H1319.9Z"/><path d="M1306.4 880.62L1311.5 871.79H1321.7L1326.8 880.62L1321.7 889.45H1311.5Z"/><path d="M1314.8 878.53L1319.9 869.7H1330.1L1335.2 878.53L1330.1 887.37H1319.9Z"/><path d="M1331.6 879.89L1336.7 871.06H1346.9L1352 879.89L1346.9 888.73H1336.7Z"/><path d="M1331.6 885.84L1336.7 877.01H1346.9L1352 885.84L1346.9 894.68H1336.7Z"/><path d="M1298 885.07L1303.1 876.24H1313.3L1318.4 885.07L1313.3 893.91H1303.1Z"/><path d="M1314.8 886.7L1319.9 877.86H1330.1L1335.2 886.7L1330.1 895.53H1319.9Z"/><path d="M1298 890.85L1303.1 882.02H1313.3L1318.4 890.85L1313.3 899.68H1303.1Z"/><path d="M1331.6 891.76L1336.7 882.93H1346.9L1352 891.76L1346.9 900.6H1336.7Z"/><path d="M1314.8 891.14L1319.9 882.31H1330.1L1335.2 891.14L1330.1 899.97H1319.9Z"/><path d="M1306.4 897.06L1311.5 888.23H1321.7L1326.8 897.06L1321.7 905.9H1311.5Z"/><path d="M1323.2 899.49L1328.3 890.65H1338.5L1343.6 899.49L1338.5 908.32H1328.3Z"/><path d="M1298 898.31L1303.1 889.47H1313.3L1318.4 898.31L1313.3 907.14H1303.1Z"/><path d="M1306.4 903.14L1311.5 894.31H1321.7L1326.8 903.14L1321.7 911.97H1311.5Z"/><path d="M1314.8 903.27L1319.9 894.44H1330.1L1335.2 903.27L1330.1 912.11H1319.9Z"/><path d="M1323.2 904.82L1328.3 895.98H1338.5L1343.6 904.82L1338.5 913.65H1328.3Z"/><path d="M1323.2 908.72L1328.3 899.89H1338.5L1343.6 908.72L1338.5 917.56H1328.3Z"/><path d="M1298 909.13L1303.1 900.29H1313.3L1318.4 909.13L1313.3 917.96H1303.1Z"/><path d="M1306.4 910.41L1311.5 901.58H1321.7L1326.8 910.41L1321.7 919.24H1311.5Z"/><path d="M1331.6 914.88L1336.7 906.05H1346.9L1352 914.88L1346.9 923.71H1336.7Z"/><path d="M1323.2 916.26L1328.3 907.43H1338.5L1343.6 916.26L1338.5 925.1H1328.3Z"/><path d="M1306.4 917L1311.5 908.16H1321.7L1326.8 917L1321.7 925.83H1311.5Z"/><path d="M1331.6 921.43L1336.7 912.6H1346.9L1352 921.43L1346.9 930.27H1336.7Z"/><path d="M1314.8 921.19L1319.9 912.35H1330.1L1335.2 921.19L1330.1 930.02H1319.9Z"/><path d="M1298 922.33L1303.1 913.5H1313.3L1318.4 922.33L1313.3 931.16H1303.1Z"/><path d="M1314.8 931.72L1319.9 922.89H1330.1L1335.2 931.72L1330.1 940.55H1319.9Z"/><path d="M1323.2 932.32L1328.3 923.49H1338.5L1343.6 932.32L1338.5 941.15H1328.3Z"/><path d="M1323.2 938.15L1328.3 929.31H1338.5L1343.6 938.15L1338.5 946.98H1328.3Z"/><path d="M1314.8 937.31L1319.9 928.48H1330.1L1335.2 937.31L1330.1 946.14H1319.9Z"/><path d="M1323.2 941.81L1328.3 932.98H1338.5L1343.6 941.81L1338.5 950.64H1328.3Z"/><path d="M1306.4 941.62L1311.5 932.78H1321.7L1326.8 941.62L1321.7 950.45H1311.5Z"/><path d="M1323.2 949.72L1328.3 940.89H1338.5L1343.6 949.72L1338.5 958.55H1328.3Z"/><path d="M1306.4 948.67L1311.5 939.84H1321.7L1326.8 948.67L1321.7 957.51H1311.5Z"/><path d="M1306.4 954.38L1311.5 945.55H1321.7L1326.8 954.38L1321.7 963.21H1311.5Z"/><path d="M1323.2 954.03L1328.3 945.19H1338.5L1343.6 954.03L1338.5 962.86H1328.3Z"/><path d="M1308.1 823.4L1313.2 814.57H1323.4L1328.5 823.4L1323.4 832.23H1313.2Z"/><path d="M1332.9 824.4L1338 815.57H1348.2L1353.3 824.4L1348.2 833.23H1338Z"/><path d="M1296.2 835.2L1301.3 826.37H1311.5L1316.6 835.2L1311.5 844.03H1301.3Z"/><path d="M1327.4 838.2L1332.5 829.37H1342.7L1347.8 838.2L1342.7 847.03H1332.5Z"/><path d="M1314.1 836.2L1319.2 827.37H1329.4L1334.5 836.2L1329.4 845.03H1319.2Z"/><path d="M1319.5 853.1L1324.6 844.27H1334.8L1339.9 853.1L1334.8 861.93H1324.6Z"/><path d="M1298.2 868.9L1303.3 860.07H1313.5L1318.6 868.9L1313.5 877.73H1303.3Z"/><path d="M1309.6 869.4L1314.7 860.57H1324.9L1330 869.4L1324.9 878.23H1314.7Z"/><path d="M1323.5 876.3L1328.6 867.47H1338.8L1343.9 876.3L1338.8 885.13H1328.6Z"/><path d="M1316 886.7L1321.1 877.87H1331.3L1336.4 886.7L1331.3 895.53H1321.1Z"/><path d="M1308.1 897.6L1313.2 888.77H1323.4L1328.5 897.6L1323.4 906.43H1313.2Z"/><path d="M1325.2 875.9L1330.3 867.07H1340.5L1345.6 875.9L1340.5 884.73H1330.3Z"/><path d="M1305.8 900.2L1310.9 891.37H1321.1L1326.2 900.2L1321.1 909.03H1310.9Z"/><path d="M1320.3 913.2L1325.4 904.37H1335.6L1340.7 913.2L1335.6 922.03H1325.4Z"/><path d="M1304.1 918.1L1309.2 909.27H1319.4L1324.5 918.1L1319.4 926.93H1309.2Z"/><path d="M1330 926.2L1335.1 917.37H1345.3L1350.4 926.2L1345.3 935.03H1335.1Z"/><path d="M1313 937.5L1318.1 928.67H1328.3L1333.4 937.5L1328.3 946.33H1318.1Z"/><path d="M1314.7 966.7L1319.8 957.87H1330L1335.1 966.7L1330 975.53H1319.8Z"/><path d="M1309.8 989.3L1314.9 980.47H1325.1L1330.2 989.3L1325.1 998.13H1314.9Z"/><path d="M1317.1 981.2L1322.2 972.37H1332.4L1337.5 981.2L1332.4 990.03H1322.2Z"/>
</g>
<path d="M1041.4 559.6V531.2H1116.9V609.6" fill="none" stroke="#000" stroke-width="4.9"/>
<path d="M1046.5 480.8V451H1187.2V614.6" fill="none" stroke="#000" stroke-width="4.9"/>
<path d="M1035.5 386.4V351.4H1253.7V546.4" fill="none" stroke="#000" stroke-width="4.9"/>
<path d="M1041.4 286.9V243.8H1325V661.6" fill="none" stroke="#000" stroke-width="4.9"/>
<text transform="translate(982.9 518) scale(1 1.035)" font-size="42.5" style="letter-spacing:-3.25px;word-spacing:3.3px;"><tspan font-style="italic">p</tspan> = 0.7777</text>
<text transform="translate(1020.4 433.8) scale(1 1.035)" font-size="42.5" style="letter-spacing:-3.25px;word-spacing:3.3px;"><tspan font-style="italic">p</tspan> = 0.0536</text>
<text transform="translate(1051.4 325.3) scale(1 1.035)" font-size="42.5" style="letter-spacing:-3.25px;word-spacing:3.3px;"><tspan font-style="italic">p</tspan> = 0.5344</text>
<text transform="translate(1181 244.8)" font-size="66" text-anchor="middle">*</text>
<g transform="translate(731.1 1079.5) rotate(-90)">
<text transform="translate(-1.5 0) scale(1 1.045)" font-size="49" style="letter-spacing:2.75px">N content of CWD</text>
<text transform="translate(441.5 -1.5)" font-size="44.5" font-weight="normal">（</text>
<text transform="translate(504 0) scale(0.95 1.08)" font-size="51">%</text>
<text transform="translate(555.3 -1.5)" font-size="44.5" font-weight="normal">）</text>
</g>
</g>
<g>
<g fill="#000">
<rect x="1666.95" y="453.3" width="11.2" height="566.8" fill="#000"/>
<rect x="1625.9" y="453.3" width="46.65" height="11.2" fill="#000"/>
<rect x="1625.9" y="592.2" width="46.65" height="11.2" fill="#000"/>
<rect x="1625.9" y="731.1" width="46.65" height="11.2" fill="#000"/>
<rect x="1625.9" y="870" width="46.65" height="11.2" fill="#000"/>
<rect x="1625.9" y="1008.9" width="46.65" height="11.2" fill="#000"/>
<rect x="1776.3" y="1120.6" width="430" height="11.2" fill="#000"/>
<rect x="1833.2" y="1126.2" width="11.2" height="48" fill="#000"/>
<rect x="1908.8" y="1126.2" width="11.2" height="48" fill="#000"/>
<rect x="1984.4" y="1126.2" width="11.2" height="48" fill="#000"/>
<rect x="2059.6" y="1126.2" width="11.2" height="48" fill="#000"/>
<rect x="2135.1" y="1126.2" width="11.2" height="48" fill="#000"/>
</g>
<text transform="translate(1615.3 478.5) scale(0.975 1.055)" font-size="54.6" text-anchor="end">200</text>
<text transform="translate(1615.3 617.4) scale(0.975 1.055)" font-size="54.6" text-anchor="end">150</text>
<text transform="translate(1615.3 756.3) scale(0.975 1.055)" font-size="54.6" text-anchor="end">100</text>
<text transform="translate(1615.3 895.2) scale(0.975 1.055)" font-size="54.6" text-anchor="end">50</text>
<text transform="translate(1615.3 1034.1) scale(0.975 1.055)" font-size="54.6" text-anchor="end">0</text>
<text transform="translate(1858.8 1225) rotate(-45)" font-size="53" text-anchor="end" style="letter-spacing:0.4px;word-spacing:1.5px;">Control</text>
<text transform="translate(1934.4 1225) rotate(-45)" font-size="53" text-anchor="end" style="letter-spacing:1px;word-spacing:1.5px;">Type A</text>
<text transform="translate(2010 1225) rotate(-45)" font-size="53" text-anchor="end" style="letter-spacing:1px;word-spacing:1.5px;">Type B</text>
<text transform="translate(2085.2 1225) rotate(-45)" font-size="53" text-anchor="end" style="letter-spacing:1px;word-spacing:1.5px;">Type C</text>
<text transform="translate(2160.7 1225) rotate(-45)" font-size="53" text-anchor="end" style="letter-spacing:1px;word-spacing:1.5px;">Type D</text>
<g stroke="#000" stroke-width="5.2">
<rect x="1813.65" y="821.4" width="53.5" height="190.3" fill="#D3D3D3"/>
<rect x="1888.85" y="819.6" width="53.5" height="192.1" fill="#FFE0C0"/>
<rect x="1964.45" y="857.8" width="53.5" height="153.9" fill="#FFBEC6"/>
<rect x="2039.85" y="827.9" width="53.5" height="183.8" fill="#FF8080"/>
<rect x="2115.35" y="804.2" width="53.5" height="207.5" fill="#FFC380"/>
</g>
<path d="M1840 701.6V819M1825.5 701.6H1854.5M1991 775.3V856M1976.5 775.3H2005.5M2141.9 684.6V802M2127.4 684.6H2156.4" fill="none" stroke="#000" stroke-width="5.3"/>
<g fill="#D3D3D3" stroke="#000" stroke-width="5.1">
<circle cx="1839.9" cy="489.9" r="10.9"/><circle cx="1842.7" cy="507.2" r="10.9"/><circle cx="1837.2" cy="502.2" r="10.9"/><circle cx="1839.9" cy="587.5" r="10.9"/><circle cx="1839.9" cy="580.4" r="10.9"/><circle cx="1839.9" cy="655.7" r="10.9"/><circle cx="1839.9" cy="724.9" r="10.9"/><circle cx="1839.9" cy="751.6" r="10.9"/><circle cx="1844.3" cy="771.3" r="10.9"/><circle cx="1835.6" cy="780.7" r="10.9"/><circle cx="1834.9" cy="812.2" r="10.9"/><circle cx="1839.9" cy="800.4" r="10.9"/><circle cx="1840" cy="831.61" r="10.9"/><circle cx="1831" cy="832.31" r="10.9"/><circle cx="1840" cy="839.32" r="10.9"/><circle cx="1831" cy="840.23" r="10.9"/><circle cx="1831" cy="846.15" r="10.9"/><circle cx="1849" cy="845.08" r="10.9"/><circle cx="1840" cy="855.2" r="10.9"/><circle cx="1822" cy="854.95" r="10.9"/><circle cx="1831" cy="857.28" r="10.9"/><circle cx="1831" cy="861.98" r="10.9"/><circle cx="1858" cy="864.37" r="10.9"/><circle cx="1840" cy="861.63" r="10.9"/><circle cx="1858" cy="870.64" r="10.9"/><circle cx="1849" cy="871.26" r="10.9"/><circle cx="1831" cy="869.68" r="10.9"/><circle cx="1840" cy="875.79" r="10.9"/><circle cx="1831" cy="875.91" r="10.9"/><circle cx="1822" cy="876.15" r="10.9"/><circle cx="1822" cy="884.22" r="10.9"/><circle cx="1858" cy="884.1" r="10.9"/><circle cx="1831" cy="883.72" r="10.9"/><circle cx="1858" cy="892.07" r="10.9"/><circle cx="1822" cy="892.47" r="10.9"/><circle cx="1849" cy="891.51" r="10.9"/><circle cx="1858" cy="898.64" r="10.9"/><circle cx="1822" cy="897.13" r="10.9"/><circle cx="1849" cy="898.99" r="10.9"/><circle cx="1849" cy="903.69" r="10.9"/><circle cx="1822" cy="906.06" r="10.9"/><circle cx="1831" cy="906.47" r="10.9"/><circle cx="1849" cy="910.73" r="10.9"/><circle cx="1831" cy="909.95" r="10.9"/><circle cx="1831" cy="918.81" r="10.9"/><circle cx="1849" cy="919.12" r="10.9"/><circle cx="1840" cy="924.63" r="10.9"/><circle cx="1849" cy="925.26" r="10.9"/><circle cx="1849" cy="838.2" r="10.9"/><circle cx="1830.1" cy="837.4" r="10.9"/><circle cx="1857.7" cy="864.2" r="10.9"/><circle cx="1823" cy="875.2" r="10.9"/><circle cx="1826.2" cy="865" r="10.9"/><circle cx="1849" cy="876.8" r="10.9"/><circle cx="1826.2" cy="887.8" r="10.9"/><circle cx="1847.5" cy="908.2" r="10.9"/><circle cx="1833.3" cy="913" r="10.9"/><circle cx="1847.6" cy="910.6" r="10.9"/><circle cx="1834.1" cy="914.2" r="10.9"/><circle cx="1835" cy="943" r="10.9"/><circle cx="1844" cy="940.3" r="10.9"/>
</g>
<g fill="#FFC080" fill-opacity=".5" stroke="#000" stroke-width="5.1">
<rect x="1904.65" y="512.85" width="21.7" height="21.7"/><rect x="1903.65" y="629.05" width="21.7" height="21.7"/><rect x="1906.35" y="617.55" width="21.7" height="21.7"/><rect x="1904.65" y="656.95" width="21.7" height="21.7"/><rect x="1904.65" y="694.35" width="21.7" height="21.7"/><rect x="1905.65" y="700.15" width="21.7" height="21.7"/><rect x="1903.15" y="711.15" width="21.7" height="21.7"/><rect x="1906.65" y="716.65" width="21.7" height="21.7"/><rect x="1904.65" y="729.15" width="21.7" height="21.7"/><rect x="1902.65" y="735.15" width="21.7" height="21.7"/><rect x="1907.65" y="746.15" width="21.7" height="21.7"/><rect x="1904.65" y="752.15" width="21.7" height="21.7"/><rect x="1901.65" y="761.15" width="21.7" height="21.7"/><rect x="1906.65" y="768.15" width="21.7" height="21.7"/><rect x="1904.65" y="775.15" width="21.7" height="21.7"/><rect x="1895.65" y="790.04" width="21.7" height="21.7"/><rect x="1913.65" y="790.48" width="21.7" height="21.7"/><rect x="1904.65" y="795.67" width="21.7" height="21.7"/><rect x="1895.65" y="795.48" width="21.7" height="21.7"/><rect x="1904.65" y="801.35" width="21.7" height="21.7"/><rect x="1913.65" y="798.99" width="21.7" height="21.7"/><rect x="1922.65" y="810.37" width="21.7" height="21.7"/><rect x="1886.65" y="808.69" width="21.7" height="21.7"/><rect x="1904.65" y="809.3" width="21.7" height="21.7"/><rect x="1922.65" y="816.44" width="21.7" height="21.7"/><rect x="1886.65" y="814.37" width="21.7" height="21.7"/><rect x="1913.65" y="816" width="21.7" height="21.7"/><rect x="1922.65" y="822.57" width="21.7" height="21.7"/><rect x="1904.65" y="819.67" width="21.7" height="21.7"/><rect x="1886.65" y="821.97" width="21.7" height="21.7"/><rect x="1886.65" y="828.03" width="21.7" height="21.7"/><rect x="1904.65" y="826.77" width="21.7" height="21.7"/><rect x="1913.65" y="827.18" width="21.7" height="21.7"/><rect x="1913.65" y="833.55" width="21.7" height="21.7"/><rect x="1886.65" y="833.33" width="21.7" height="21.7"/><rect x="1904.65" y="831.55" width="21.7" height="21.7"/><rect x="1895.65" y="836.94" width="21.7" height="21.7"/><rect x="1922.65" y="837.15" width="21.7" height="21.7"/><rect x="1886.65" y="838.6" width="21.7" height="21.7"/><rect x="1913.65" y="844.72" width="21.7" height="21.7"/><rect x="1895.65" y="844.57" width="21.7" height="21.7"/><rect x="1922.65" y="845.74" width="21.7" height="21.7"/><rect x="1904.65" y="849.32" width="21.7" height="21.7"/><rect x="1886.65" y="852.08" width="21.7" height="21.7"/><rect x="1922.65" y="849.22" width="21.7" height="21.7"/><rect x="1922.65" y="855.75" width="21.7" height="21.7"/><rect x="1895.65" y="856.39" width="21.7" height="21.7"/><rect x="1886.65" y="854.68" width="21.7" height="21.7"/><rect x="1913.65" y="860.51" width="21.7" height="21.7"/><rect x="1922.65" y="860.89" width="21.7" height="21.7"/><rect x="1904.65" y="862.61" width="21.7" height="21.7"/><rect x="1886.65" y="868.33" width="21.7" height="21.7"/><rect x="1895.65" y="866.4" width="21.7" height="21.7"/><rect x="1922.65" y="867.04" width="21.7" height="21.7"/><rect x="1913.65" y="872.45" width="21.7" height="21.7"/><rect x="1886.65" y="874.09" width="21.7" height="21.7"/><rect x="1895.65" y="871.78" width="21.7" height="21.7"/><rect x="1913.65" y="877.48" width="21.7" height="21.7"/><rect x="1895.65" y="878.76" width="21.7" height="21.7"/><rect x="1886.65" y="876.93" width="21.7" height="21.7"/><rect x="1895.65" y="884.03" width="21.7" height="21.7"/><rect x="1913.65" y="884.31" width="21.7" height="21.7"/><rect x="1886.65" y="883.08" width="21.7" height="21.7"/><rect x="1922.65" y="887.89" width="21.7" height="21.7"/><rect x="1886.65" y="889.45" width="21.7" height="21.7"/><rect x="1904.65" y="890.42" width="21.7" height="21.7"/><rect x="1913.65" y="896.13" width="21.7" height="21.7"/><rect x="1904.65" y="895.02" width="21.7" height="21.7"/><rect x="1913.65" y="899.32" width="21.7" height="21.7"/><rect x="1895.65" y="901.9" width="21.7" height="21.7"/><rect x="1913.65" y="905.65" width="21.7" height="21.7"/><rect x="1904.65" y="905.27" width="21.7" height="21.7"/><rect x="1904.65" y="912.04" width="21.7" height="21.7"/><rect x="1895.65" y="912.51" width="21.7" height="21.7"/><rect x="1904.65" y="919.16" width="21.7" height="21.7"/><rect x="1904.65" y="925.27" width="21.7" height="21.7"/><rect x="1904.65" y="929.83" width="21.7" height="21.7"/><rect x="1894.15" y="798.15" width="21.7" height="21.7"/><rect x="1913.15" y="793.65" width="21.7" height="21.7"/><rect x="1913.75" y="815.55" width="21.7" height="21.7"/><rect x="1889.35" y="818.65" width="21.7" height="21.7"/><rect x="1898.75" y="831.15" width="21.7" height="21.7"/><rect x="1901.95" y="848.55" width="21.7" height="21.7"/><rect x="1887.75" y="858.05" width="21.7" height="21.7"/><rect x="1912.95" y="887.95" width="21.7" height="21.7"/><rect x="1922.65" y="872.15" width="21.7" height="21.7"/><rect x="1913.25" y="885.35" width="21.7" height="21.7"/><rect x="1910.55" y="907.85" width="21.7" height="21.7"/><rect x="1906.95" y="928.55" width="21.7" height="21.7"/><rect x="1902.45" y="944.75" width="21.7" height="21.7"/><rect x="1904.25" y="988.85" width="21.7" height="21.7"/>
</g>
<g fill="#FFBEC6" stroke="#000" stroke-width="5.1">
<path d="M1991 597.76L2001.4 618.36H1980.6Z"/><path d="M1991 658.46L2001.4 679.06H1980.6Z"/><path d="M1991 697.46L2001.4 718.06H1980.6Z"/><path d="M1991 741.86L2001.4 762.46H1980.6Z"/><path d="M1991 805.36L2001.4 825.96H1980.6Z"/><path d="M1995.3 827.56L2005.7 848.16H1984.9Z"/><path d="M1993.7 849.46L2004.1 870.06H1983.3Z"/><path d="M1982 863.26L1992.4 883.86H1971.6Z"/><path d="M2000 865.26L2010.4 885.86H1989.6Z"/><path d="M1982 875.26L1992.4 895.86H1971.6Z"/><path d="M2000 877.26L2010.4 897.86H1989.6Z"/><path d="M1964 884.26L1974.4 904.86H1953.6Z"/><path d="M2018 884.26L2028.4 904.86H2007.6Z"/><path d="M1991 859.26L2001.4 879.86H1980.6Z"/><path d="M1990.7 871.26L2001.1 891.86H1980.3Z"/><path d="M1972.6 880.36L1983 900.96H1962.2Z"/><path d="M2009.6 880.36L2020 900.96H1999.2Z"/><path d="M1982 888.26L1992.4 908.86H1971.6Z"/><path d="M2000 890.26L2010.4 910.86H1989.6Z"/><path d="M1993.4 888.26L2003.8 908.86H1983Z"/><path d="M1973.6 894.26L1984 914.86H1963.2Z"/><path d="M2007.8 898.26L2018.2 918.86H1997.4Z"/><path d="M1986.3 896.16L1996.7 916.76H1975.9Z"/><path d="M1991 903.26L2001.4 923.86H1980.6Z"/><path d="M1982 909.26L1992.4 929.86H1971.6Z"/><path d="M2004 912.26L2014.4 932.86H1993.6Z"/><path d="M1977.2 919.26L1987.6 939.86H1966.8Z"/><path d="M1995.2 912.26L2005.6 932.86H1984.8Z"/><path d="M1999.7 930.76L2010.1 951.36H1989.3Z"/>
</g>
<g fill="#FF8080" stroke="#000" stroke-width="5.1">
<path d="M2066.2 611L2077.1 621.9L2066.2 632.8L2055.3 621.9Z"/><path d="M2066.2 685.4L2077.1 696.3L2066.2 707.2L2055.3 696.3Z"/><path d="M2066.2 687.4L2077.1 698.3L2066.2 709.2L2055.3 698.3Z"/><path d="M2064.6 708.5L2075.5 719.4L2064.6 730.3L2053.7 719.4Z"/><path d="M2071.4 732.7L2082.3 743.6L2071.4 754.5L2060.5 743.6Z"/><path d="M2066.2 756L2077.1 766.9L2066.2 777.8L2055.3 766.9Z"/><path d="M2075.2 775.6L2086.1 786.5L2075.2 797.4L2064.3 786.5Z"/><path d="M2057.9 786.2L2068.8 797.1L2057.9 808L2047 797.1Z"/><path d="M2072.8 701.56L2083.7 712.46L2072.8 723.36L2061.9 712.46Z"/><path d="M2060.2 701.6L2071.1 712.5L2060.2 723.4L2049.3 712.5Z"/><path d="M2066.5 710.99L2077.4 721.89L2066.5 732.79L2055.6 721.89Z"/><path d="M2072.8 712.19L2083.7 723.09L2072.8 733.99L2061.9 723.09Z"/><path d="M2072.8 721.69L2083.7 732.59L2072.8 743.49L2061.9 732.59Z"/><path d="M2066.5 721.98L2077.4 732.88L2066.5 743.78L2055.6 732.88Z"/><path d="M2066.5 735.58L2077.4 746.48L2066.5 757.38L2055.6 746.48Z"/><path d="M2060.2 735.1L2071.1 746L2060.2 756.9L2049.3 746Z"/><path d="M2072.8 746.08L2083.7 756.98L2072.8 767.88L2061.9 756.98Z"/><path d="M2066.5 745.83L2077.4 756.73L2066.5 767.63L2055.6 756.73Z"/><path d="M2072.8 755.67L2083.7 766.57L2072.8 777.47L2061.9 766.57Z"/><path d="M2066.5 755.3L2077.4 766.2L2066.5 777.1L2055.6 766.2Z"/><path d="M2060.2 767.61L2071.1 778.51L2060.2 789.41L2049.3 778.51Z"/><path d="M2066.5 768.27L2077.4 779.17L2066.5 790.07L2055.6 779.17Z"/><path d="M2060.2 778.57L2071.1 789.47L2060.2 800.37L2049.3 789.47Z"/><path d="M2066.5 777.64L2077.4 788.54L2066.5 799.44L2055.6 788.54Z"/><path d="M2060.2 785.67L2071.1 796.57L2060.2 807.47L2049.3 796.57Z"/><path d="M2066.5 785.26L2077.4 796.16L2066.5 807.06L2055.6 796.16Z"/><path d="M2066.5 795.92L2077.4 806.82L2066.5 817.72L2055.6 806.82Z"/><path d="M2060.2 796.79L2071.1 807.69L2060.2 818.59L2049.3 807.69Z"/><path d="M2066.5 806.48L2077.4 817.38L2066.5 828.28L2055.6 817.38Z"/><path d="M2060.2 806.14L2071.1 817.04L2060.2 827.94L2049.3 817.04Z"/><path d="M2060.2 817.71L2071.1 828.61L2060.2 839.51L2049.3 828.61Z"/><path d="M2072.8 817.39L2083.7 828.29L2072.8 839.19L2061.9 828.29Z"/><path d="M2048.5 824.47L2059.4 835.37L2048.5 846.27L2037.6 835.37Z"/><path d="M2066.5 823.82L2077.4 834.72L2066.5 845.62L2055.6 834.72Z"/><path d="M2075.5 824.95L2086.4 835.85L2075.5 846.75L2064.6 835.85Z"/><path d="M2066.5 833.39L2077.4 844.29L2066.5 855.19L2055.6 844.29Z"/><path d="M2048.5 835.21L2059.4 846.11L2048.5 857.01L2037.6 846.11Z"/><path d="M2057.5 833.55L2068.4 844.45L2057.5 855.35L2046.6 844.45Z"/><path d="M2057.5 842.08L2068.4 852.98L2057.5 863.88L2046.6 852.98Z"/><path d="M2048.5 843.6L2059.4 854.5L2048.5 865.4L2037.6 854.5Z"/><path d="M2075.5 842.43L2086.4 853.33L2075.5 864.23L2064.6 853.33Z"/><path d="M2066.5 850.68L2077.4 861.58L2066.5 872.48L2055.6 861.58Z"/><path d="M2057.5 851.42L2068.4 862.32L2057.5 873.22L2046.6 862.32Z"/><path d="M2075.5 853.16L2086.4 864.06L2075.5 874.96L2064.6 864.06Z"/><path d="M2048.5 862.29L2059.4 873.19L2048.5 884.09L2037.6 873.19Z"/><path d="M2057.5 859.88L2068.4 870.78L2057.5 881.68L2046.6 870.78Z"/><path d="M2066.5 861.52L2077.4 872.42L2066.5 883.32L2055.6 872.42Z"/><path d="M2057.5 874.14L2068.4 885.04L2057.5 895.94L2046.6 885.04Z"/><path d="M2066.5 873.88L2077.4 884.78L2066.5 895.68L2055.6 884.78Z"/><path d="M2075.5 883.41L2086.4 894.31L2075.5 905.21L2064.6 894.31Z"/><path d="M2057.5 884.47L2068.4 895.37L2057.5 906.27L2046.6 895.37Z"/><path d="M2057.5 893.1L2068.4 904L2057.5 914.9L2046.6 904Z"/><path d="M2075.5 891.91L2086.4 902.81L2075.5 913.71L2064.6 902.81Z"/><path d="M2075.5 901.44L2086.4 912.34L2075.5 923.24L2064.6 912.34Z"/><path d="M2066.5 900.68L2077.4 911.58L2066.5 922.48L2055.6 911.58Z"/><path d="M2075.5 910.66L2086.4 921.56L2075.5 932.46L2064.6 921.56Z"/><path d="M2057.5 910.36L2068.4 921.26L2057.5 932.16L2046.6 921.26Z"/><path d="M2057.5 920.52L2068.4 931.42L2057.5 942.32L2046.6 931.42Z"/><path d="M2075.5 918.11L2086.4 929.01L2075.5 939.91L2064.6 929.01Z"/><path d="M2057.5 927.53L2068.4 938.43L2057.5 949.33L2046.6 938.43Z"/><path d="M2075.5 927.98L2086.4 938.88L2075.5 949.78L2064.6 938.88Z"/><path d="M2060.1 811.1L2071 822L2060.1 832.9L2049.2 822Z"/><path d="M2064.6 829.9L2075.5 840.8L2064.6 851.7L2053.7 840.8Z"/><path d="M2048.1 840.5L2059 851.4L2048.1 862.3L2037.2 851.4Z"/><path d="M2085 844.3L2095.9 855.2L2085 866.1L2074.1 855.2Z"/><path d="M2064.6 857.1L2075.5 868L2064.6 878.9L2053.7 868Z"/><path d="M2060.9 878.2L2071.8 889.1L2060.9 900L2050 889.1Z"/><path d="M2071.4 890.3L2082.3 901.2L2071.4 912.1L2060.5 901.2Z"/><path d="M2060 878.1L2070.9 889L2060 899.9L2049.1 889Z"/><path d="M2070.8 892.5L2081.7 903.4L2070.8 914.3L2059.9 903.4Z"/><path d="M2058.2 905.1L2069.1 916L2058.2 926.9L2047.3 916Z"/><path d="M2070.8 919.5L2081.7 930.4L2070.8 941.3L2059.9 930.4Z"/><path d="M2058.2 921.3L2069.1 932.2L2058.2 943.1L2047.3 932.2Z"/><path d="M2070.8 933.9L2081.7 944.8L2070.8 955.7L2059.9 944.8Z"/><path d="M2066.3 959.1L2077.2 970L2066.3 980.9L2055.4 970Z"/>
</g>
<g fill="#FFC380" stroke="#000" stroke-width="5.1">
<path d="M2132.9 511.9L2138.35 502.46H2149.25L2154.7 511.9L2149.25 521.34H2138.35Z"/><path d="M2129.2 499.9L2134.65 490.46H2145.55L2151 499.9L2145.55 509.34H2134.65Z"/><path d="M2131 555.4L2136.45 545.96H2147.35L2152.8 555.4L2147.35 564.84H2136.45Z"/><path d="M2130.7 697.2L2136.15 687.76H2147.05L2152.5 697.2L2147.05 706.64H2136.15Z"/><path d="M2140.5 742.8L2145.95 733.36H2156.85L2162.3 742.8L2156.85 752.24H2145.95Z"/><path d="M2134.5 728.5L2139.95 719.06H2150.85L2156.3 728.5L2150.85 737.94H2139.95Z"/><path d="M2123.9 755.6L2129.35 746.16H2140.25L2145.7 755.6L2140.25 765.04H2129.35Z"/><path d="M2130.7 776L2136.15 766.56H2147.05L2152.5 776L2147.05 785.44H2136.15Z"/><path d="M2138.2 792.6L2143.65 783.16H2154.55L2160 792.6L2154.55 802.04H2143.65Z"/><path d="M2123.1 803.1L2128.55 793.66H2139.45L2144.9 803.1L2139.45 812.54H2128.55Z"/><path d="M2136 809.2L2141.45 799.76H2152.35L2157.8 809.2L2152.35 818.64H2141.45Z"/><path d="M2123.9 726.38L2129.35 716.94H2140.25L2145.7 726.38L2140.25 735.82H2129.35Z"/><path d="M2138.3 724.37L2143.75 714.93H2154.65L2160.1 724.37L2154.65 733.81H2143.75Z"/><path d="M2123.9 735.83L2129.35 726.39H2140.25L2145.7 735.83L2140.25 745.27H2129.35Z"/><path d="M2131.1 735.58L2136.55 726.14H2147.45L2152.9 735.58L2147.45 745.02H2136.55Z"/><path d="M2123.9 748.26L2129.35 738.82H2140.25L2145.7 748.26L2140.25 757.7H2129.35Z"/><path d="M2138.3 749L2143.75 739.57H2154.65L2160.1 749L2154.65 758.44H2143.75Z"/><path d="M2123.9 759.91L2129.35 750.47H2140.25L2145.7 759.91L2140.25 769.35H2129.35Z"/><path d="M2138.3 761.15L2143.75 751.71H2154.65L2160.1 761.15L2154.65 770.59H2143.75Z"/><path d="M2131.1 771.95L2136.55 762.51H2147.45L2152.9 771.95L2147.45 781.39H2136.55Z"/><path d="M2138.3 773.62L2143.75 764.18H2154.65L2160.1 773.62L2154.65 783.06H2143.75Z"/><path d="M2131.1 784.49L2136.55 775.05H2147.45L2152.9 784.49L2147.45 793.93H2136.55Z"/><path d="M2123.9 783.87L2129.35 774.43H2140.25L2145.7 783.87L2140.25 793.31H2129.35Z"/><path d="M2131.1 796.43L2136.55 786.99H2147.45L2152.9 796.43L2147.45 805.87H2136.55Z"/><path d="M2123.9 795.75L2129.35 786.31H2140.25L2145.7 795.75L2140.25 805.18H2129.35Z"/><path d="M2131.1 815.09L2136.55 805.65H2147.45L2152.9 815.09L2147.45 824.53H2136.55Z"/><path d="M2149.1 815.97L2154.55 806.53H2165.45L2170.9 815.97L2165.45 825.41H2154.55Z"/><path d="M2122.1 815.98L2127.55 806.54H2138.45L2143.9 815.98L2138.45 825.42H2127.55Z"/><path d="M2113.1 823.09L2118.55 813.65H2129.45L2134.9 823.09L2129.45 832.53H2118.55Z"/><path d="M2149.1 825.2L2154.55 815.76H2165.45L2170.9 825.2L2165.45 834.64H2154.55Z"/><path d="M2122.1 822.85L2127.55 813.41H2138.45L2143.9 822.85L2138.45 832.29H2127.55Z"/><path d="M2140.1 835.1L2145.55 825.66H2156.45L2161.9 835.1L2156.45 844.54H2145.55Z"/><path d="M2131.1 835.6L2136.55 826.16H2147.45L2152.9 835.6L2147.45 845.04H2136.55Z"/><path d="M2113.1 836.02L2118.55 826.58H2129.45L2134.9 836.02L2129.45 845.46H2118.55Z"/><path d="M2113.1 843.29L2118.55 833.86H2129.45L2134.9 843.29L2129.45 852.73H2118.55Z"/><path d="M2149.1 843.53L2154.55 834.09H2165.45L2170.9 843.53L2165.45 852.97H2154.55Z"/><path d="M2131.1 843.72L2136.55 834.28H2147.45L2152.9 843.72L2147.45 853.16H2136.55Z"/><path d="M2113.1 852.98L2118.55 843.54H2129.45L2134.9 852.98L2129.45 862.42H2118.55Z"/><path d="M2122.1 852.3L2127.55 842.86H2138.45L2143.9 852.3L2138.45 861.74H2127.55Z"/><path d="M2149.1 851.41L2154.55 841.97H2165.45L2170.9 851.41L2165.45 860.85H2154.55Z"/><path d="M2140.1 859.99L2145.55 850.55H2156.45L2161.9 859.99L2156.45 869.43H2145.55Z"/><path d="M2149.1 860.88L2154.55 851.44H2165.45L2170.9 860.88L2165.45 870.32H2154.55Z"/><path d="M2122.1 860.88L2127.55 851.44H2138.45L2143.9 860.88L2138.45 870.32H2127.55Z"/><path d="M2113.1 866.89L2118.55 857.45H2129.45L2134.9 866.89L2129.45 876.33H2118.55Z"/><path d="M2140.1 868.04L2145.55 858.6H2156.45L2161.9 868.04L2156.45 877.48H2145.55Z"/><path d="M2131.1 868.22L2136.55 858.78H2147.45L2152.9 868.22L2147.45 877.66H2136.55Z"/><path d="M2113.1 876.87L2118.55 867.43H2129.45L2134.9 876.87L2129.45 886.31H2118.55Z"/><path d="M2149.1 877L2154.55 867.56H2165.45L2170.9 877L2165.45 886.44H2154.55Z"/><path d="M2140.1 876.47L2145.55 867.03H2156.45L2161.9 876.47L2156.45 885.91H2145.55Z"/><path d="M2131.1 883.93L2136.55 874.49H2147.45L2152.9 883.93L2147.45 893.37H2136.55Z"/><path d="M2149.1 883.97L2154.55 874.53H2165.45L2170.9 883.97L2165.45 893.41H2154.55Z"/><path d="M2122.1 883.25L2127.55 873.81H2138.45L2143.9 883.25L2138.45 892.69H2127.55Z"/><path d="M2140.1 892.88L2145.55 883.44H2156.45L2161.9 892.88L2156.45 902.32H2145.55Z"/><path d="M2122.1 892.95L2127.55 883.51H2138.45L2143.9 892.95L2138.45 902.39H2127.55Z"/><path d="M2149.1 892.54L2154.55 883.11H2165.45L2170.9 892.54L2165.45 901.98H2154.55Z"/><path d="M2122.1 899.94L2127.55 890.5H2138.45L2143.9 899.94L2138.45 909.37H2127.55Z"/><path d="M2131.1 900.95L2136.55 891.51H2147.45L2152.9 900.95L2147.45 910.39H2136.55Z"/><path d="M2140.1 899.04L2145.55 889.6H2156.45L2161.9 899.04L2156.45 908.48H2145.55Z"/><path d="M2150.3 825.8L2155.75 816.36H2166.65L2172.1 825.8L2166.65 835.24H2155.75Z"/><path d="M2116.4 825L2121.85 815.56H2132.75L2138.2 825L2132.75 834.44H2121.85Z"/><path d="M2134.5 830.3L2139.95 820.86H2150.85L2156.3 830.3L2150.85 839.74H2139.95Z"/><path d="M2112.6 849.9L2118.05 840.46H2128.95L2134.4 849.9L2128.95 859.34H2118.05Z"/><path d="M2148.8 851.4L2154.25 841.96H2165.15L2170.6 851.4L2165.15 860.84H2154.25Z"/><path d="M2123.9 848.4L2129.35 838.96H2140.25L2145.7 848.4L2140.25 857.84H2129.35Z"/><path d="M2116.4 871L2121.85 861.56H2132.75L2138.2 871L2132.75 880.44H2121.85Z"/><path d="M2141.2 875.5L2146.65 866.06H2157.55L2163 875.5L2157.55 884.94H2146.65Z"/><path d="M2118.6 895.2L2124.05 885.76H2134.95L2140.4 895.2L2134.95 904.64H2124.05Z"/><path d="M2143.5 904.2L2148.95 894.76H2159.85L2165.3 904.2L2159.85 913.64H2148.95Z"/><path d="M2117.5 895.3L2122.95 885.86H2133.85L2139.3 895.3L2133.85 904.74H2122.95Z"/><path d="M2144.5 904.3L2149.95 894.86H2160.85L2166.3 904.3L2160.85 913.74H2149.95Z"/><path d="M2130.1 916L2135.55 906.56H2146.45L2151.9 916L2146.45 925.44H2135.55Z"/><path d="M2131 938.5L2136.45 929.06H2147.35L2152.8 938.5L2147.35 947.94H2136.45Z"/>
</g>
<path d="M1851.8 479V441.9H1916.9V492.5" fill="none" stroke="#000" stroke-width="5.5"/>
<path d="M1851.8 347.3V308.2H1991V564.8" fill="none" stroke="#000" stroke-width="5.5"/>
<path d="M1851.8 238V187.6H2070.1V564.8" fill="none" stroke="#000" stroke-width="5.5"/>
<path d="M1858 112.3V73.9H2138.1V423.2" fill="none" stroke="#000" stroke-width="5.5"/>
<text transform="translate(1770.8 409.2) scale(1 1.055)" font-size="45.8" style="letter-spacing:-3.5px;word-spacing:3.5px;"><tspan font-style="italic">p</tspan> = 0.2005</text>
<text transform="translate(1820.7 283) scale(1 1.055)" font-size="45.8" style="letter-spacing:-3.5px;word-spacing:3.5px;"><tspan font-style="italic">p</tspan> = 0.1462</text>
<text transform="translate(1865.4 167.7) scale(1 1.055)" font-size="45.8" style="letter-spacing:-3.5px;word-spacing:3.5px;"><tspan font-style="italic">p</tspan> = 0.7161</text>
<text transform="translate(1896.9 48.8) scale(1 1.055)" font-size="45.8" style="letter-spacing:-3.5px;word-spacing:3.5px;"><tspan font-style="italic">p</tspan> = 0.4573</text>
<g transform="translate(1479.1 903) rotate(-90)">
<text transform="translate(-1.3 0)" font-size="53" style="letter-spacing:0.5px">C:N</text>
<text transform="translate(110 0)" font-size="53" style="letter-spacing:1px">of</text>
<text transform="translate(175 0)" font-size="53" style="letter-spacing:2.5px">CWD</text>
</g>
</g>
<text transform="translate(519 1492.2)" font-size="99" style="letter-spacing:-1.05px;">Five different forest types</text>
</svg></body></html>
